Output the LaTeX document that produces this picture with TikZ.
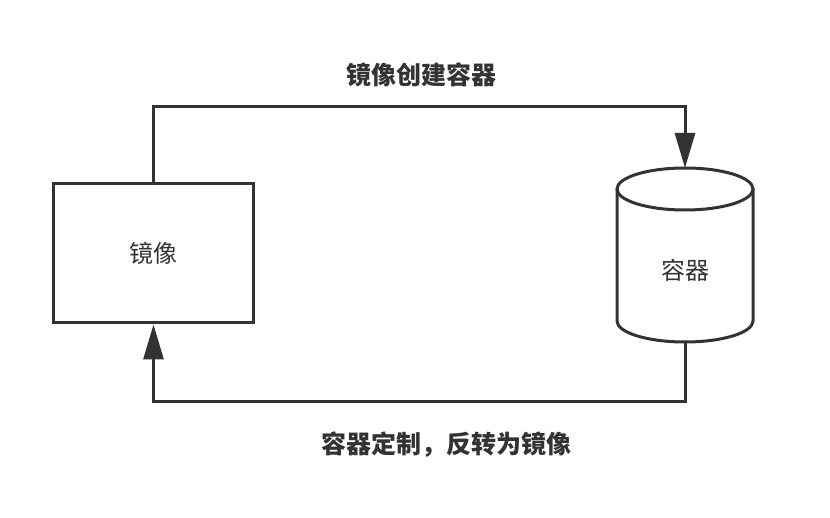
\documentclass[tikz,border=0pt]{standalone}
\usepackage{fontspec}
\setmainfont{Noto Sans CJK SC}
\usetikzlibrary{arrows.meta}
\definecolor{ink}{HTML}{333333}
\begin{document}
\begin{tikzpicture}[x=1pt,y=-1pt,
  conn/.style={draw=ink,line width=3pt,line join=miter},
  tiparrow/.style={-{Triangle[length=35pt,width=20pt]}},
  lbl/.style={text=ink,font=\fontsize{24}{26}\selectfont},
  caption/.style={text=ink,font=\bfseries\fontsize{25}{27}\selectfont}]
\useasboundingbox (0,0) rectangle (830,518);
% image box
\node[draw=ink,line width=3pt,fill=white,minimum width=200pt,minimum height=139pt,inner sep=0pt,lbl] (img) at (153.5,253.5) {镜像};
% container cylinder
\draw[ink,line width=3pt,fill=white] (617,189) -- (617,321) arc[start angle=180,end angle=360,x radius=68,y radius=-21] -- (753,189);
\draw[ink,line width=3pt] (685,189) ellipse[x radius=68,y radius=21];
\coordinate (cyltop) at (685,168);
\coordinate (cylbot) at (685,342);
\node[lbl] (ctr) at (685,270) {容器};
% connectors
\draw[conn,tiparrow] (img.north) -- ++(0,-76) -| (cyltop);
\draw[conn,tiparrow] (cylbot) -- ++(0,60) -| (img.south);
% labels
\node[caption] (t1) at (421,75) {镜像创建容器};
\node[caption] (t2) at (446,445) {容器定制，反转为镜像};
\end{tikzpicture}
\end{document}
